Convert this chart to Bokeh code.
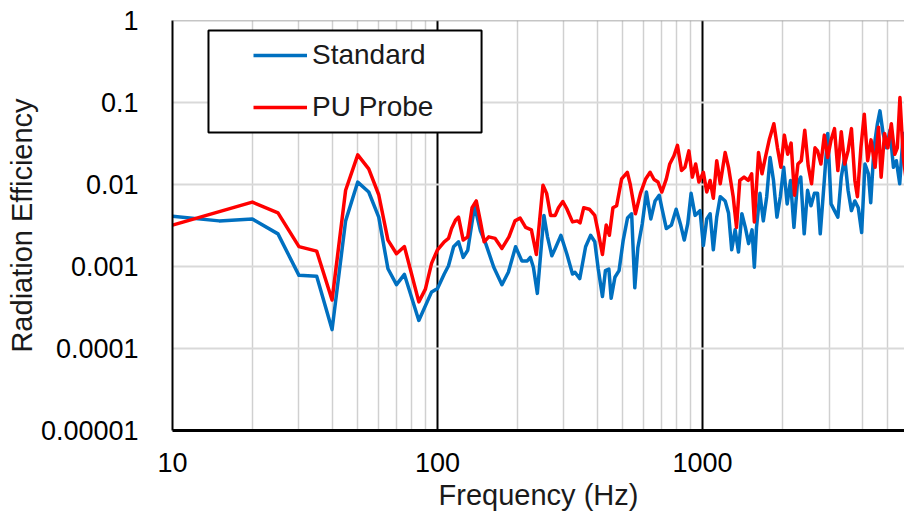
from bokeh.plotting import figure
from bokeh.models import (FixedTicker, CustomJSTickFormatter, Legend, LegendItem,
                          BoxAnnotation, Span)
from bokeh.embed import file_html
from bokeh.resources import INLINE

# ---------------- data ----------------
std_freq = [10, 15, 20, 25, 30, 35, 40, 45, 50, 55, 60, 65, 70, 75, 85, 95, 100,
            106, 110, 115, 120, 125, 130, 138, 145, 152, 163, 175, 185, 197, 208,
            218, 224, 230, 238, 252, 260, 270, 278, 292, 308, 323, 330, 344, 362,
            378, 392, 404, 419, 430, 443, 452, 467, 484, 502, 521, 540, 555, 570,
            592, 614, 638, 662, 686, 702, 730, 763, 795, 827, 853, 879, 905, 937,
            978, 1007, 1037, 1068, 1098, 1131, 1166, 1217, 1253, 1288, 1327, 1366,
            1407, 1450, 1492, 1537, 1568, 1598, 1646, 1695, 1746, 1798, 1852, 1908,
            1965, 2024, 2085, 2147, 2212, 2279, 2347, 2418, 2490, 2565, 2642, 2716,
            2780, 2880, 2966, 3054, 3146, 3240, 3337, 3437, 3540, 3645, 3755, 3868,
            3984, 4100, 4225, 4310, 4434, 4568, 4670, 4800, 4946, 5095, 5250, 5385,
            5545, 5715, 5890]
std_val = [0.0041, 0.0036, 0.0038, 0.0025, 0.00078, 0.00076, 0.00017, 0.0036,
           0.0107, 0.0081, 0.0040, 0.00094, 0.00060, 0.00080, 0.00022, 0.00049,
           0.00054, 0.00081, 0.00102, 0.00174, 0.0020, 0.00129, 0.00158, 0.0055,
           0.00275, 0.0019, 0.00098, 0.0006, 0.00085, 0.00174, 0.00117, 0.00117,
           0.00129, 0.00098, 0.00047, 0.0042, 0.0023, 0.00135, 0.00166, 0.0024,
           0.0014, 0.00081, 0.00085, 0.00071, 0.00174, 0.0024, 0.0020, 0.00093,
           0.00043, 0.00089, 0.00093, 0.00041, 0.00074, 0.00089, 0.0021, 0.0039,
           0.0044, 0.00055, 0.0017, 0.0033, 0.0081, 0.0038, 0.0063, 0.0074, 0.0052,
           0.0029, 0.0032, 0.0050, 0.0032, 0.0021, 0.0033, 0.0078, 0.0042, 0.0048,
           0.0018, 0.0038, 0.0044, 0.0016, 0.0040, 0.0071, 0.0063, 0.0045, 0.0016,
           0.0028, 0.0015, 0.0044, 0.0030, 0.0019, 0.0028, 0.00098, 0.0030, 0.0078,
           0.0036, 0.0071, 0.0214, 0.0112, 0.0040, 0.0071, 0.0162, 0.0058, 0.0112,
           0.0030, 0.0102, 0.0123, 0.0025, 0.0085, 0.0055, 0.0078, 0.0078, 0.0025,
           0.0112, 0.042, 0.0058, 0.0048, 0.0040, 0.0123, 0.0214, 0.0085, 0.0048,
           0.0063, 0.0052, 0.0026, 0.0178, 0.0135, 0.0060, 0.028, 0.055, 0.079,
           0.042, 0.028, 0.046, 0.0162, 0.0195, 0.0102, 0.042, 0.026]

pu_freq = [10, 20, 25, 30, 35, 40, 45, 50, 55, 60, 65, 70, 75, 85, 90, 95, 100,
           106, 110, 113, 117, 120, 125, 130, 135, 140, 145, 150, 156, 165, 175,
           186, 196, 205, 215, 226, 236, 250, 258, 267, 278, 286, 297, 308, 323,
           337, 345, 356, 374, 392, 404, 419, 433, 445, 459, 474, 495, 520, 533,
           558, 583, 610, 634, 656, 679, 702, 730, 752, 780, 804, 833, 858, 888,
           915, 942, 969, 1007, 1037, 1068, 1098, 1131, 1166, 1217, 1253, 1305,
           1343, 1382, 1434, 1487, 1532, 1568, 1626, 1676, 1726, 1788, 1858, 1917,
           1975, 2035, 2095, 2158, 2223, 2290, 2358, 2430, 2503, 2578, 2656, 2716,
           2796, 2880, 2966, 3054, 3146, 3240, 3337, 3437, 3540, 3645, 3755, 3840,
           3957, 4075, 4197, 4323, 4478, 4612, 4718, 4860, 5005, 5155, 5310, 5430,
           5555, 5720, 5890]
pu_val = [0.0032, 0.0061, 0.0045, 0.00175, 0.00154, 0.00039, 0.0085, 0.023,
          0.0155, 0.0075, 0.0021, 0.00143, 0.00175, 0.00037, 0.00053, 0.0011,
          0.0016, 0.0020, 0.0022, 0.0029, 0.0037, 0.0040, 0.0021, 0.0023, 0.0052,
          0.0063, 0.0036, 0.0020, 0.0023, 0.0022, 0.00166, 0.0023, 0.0036, 0.0039,
          0.0030, 0.0028, 0.0014, 0.0098, 0.0078, 0.0042, 0.0042, 0.0052, 0.0062,
          0.0050, 0.0035, 0.0036, 0.0034, 0.0052, 0.0050, 0.0042, 0.0026, 0.0014,
          0.0032, 0.0024, 0.0052, 0.0055, 0.0117, 0.0141, 0.0102, 0.0044, 0.0078,
          0.0117, 0.0141, 0.0115, 0.0107, 0.0081, 0.0117, 0.0178, 0.0224, 0.030,
          0.0148, 0.0162, 0.0257, 0.0123, 0.0178, 0.0107, 0.0141, 0.0081, 0.0112,
          0.0068, 0.0195, 0.0102, 0.0245, 0.0162, 0.0071, 0.0030, 0.0112, 0.0123,
          0.0112, 0.0135, 0.0035, 0.0245, 0.0135, 0.0214, 0.036, 0.055, 0.028,
          0.0162, 0.040, 0.0234, 0.032, 0.0074, 0.0178, 0.0195, 0.046, 0.017,
          0.0102, 0.028, 0.0257, 0.0178, 0.040, 0.0214, 0.035, 0.048, 0.0148,
          0.044, 0.0178, 0.0257, 0.048, 0.0112, 0.0071, 0.028, 0.072, 0.0195,
          0.035, 0.0162, 0.050, 0.0123, 0.042, 0.028, 0.055, 0.0234, 0.028, 0.115,
          0.0214, 0.0102]

x_major = [10, 100, 1000]
x_minor = [20, 30, 40, 50, 60, 70, 80, 90, 200, 300, 400, 500, 600, 700, 800,
           900, 2000, 3000, 4000, 5000]
y_major = [0.00001, 0.0001, 0.001, 0.01, 0.1, 1]

series_names = ["Standard", "PU Probe"]

FONT = "Liberation Sans"

p = figure(width=904, height=523, x_axis_type="log", y_axis_type="log",
           x_range=(10, 5780), y_range=(1e-5, 1),
           output_backend="svg", toolbar_location=None,
           min_border_left=172, min_border_right=0, min_border_top=20,
           min_border_bottom=93)
p.outline_line_color = None
p.background_fill_color = "white"
p.border_fill_color = "white"

xt = FixedTicker(ticks=x_major, minor_ticks=x_minor)
yt = FixedTicker(ticks=y_major, minor_ticks=[])
p.xaxis.ticker = xt
p.xgrid.ticker = xt
p.yaxis.ticker = yt
p.ygrid.ticker = yt

p.xaxis.formatter = CustomJSTickFormatter(code="return tick.toFixed(0);")
p.yaxis.formatter = CustomJSTickFormatter(
    code="const d = Math.round(-Math.log10(tick)); return d > 0 ? tick.toFixed(d) : tick.toFixed(0);")

# grids
p.xgrid.grid_line_color = "black"
p.xgrid.grid_line_width = 2
p.xgrid.minor_grid_line_color = "#d0d0d0"
p.xgrid.minor_grid_line_width = 1.5
p.ygrid.grid_line_color = "#d9d9d9"
p.ygrid.grid_line_width = 2

# axes
for ax in (p.xaxis, p.yaxis):
    ax.major_tick_line_color = None
    ax.minor_tick_line_color = None
    ax.axis_line_color = "black"
    ax.major_label_text_font = FONT
    ax.major_label_text_font_size = "27px"
    ax.major_label_text_color = "black"
    ax.axis_label_text_font = FONT
    ax.axis_label_text_font_size = "29px"
    ax.axis_label_text_font_style = "normal"
    ax.axis_label_text_color = "#1a1a1a"
p.xaxis.axis_line_width = 3
p.yaxis.axis_line_width = 2
p.xaxis.major_label_standoff = 16
p.yaxis.major_label_standoff = 28
p.xaxis.axis_label = "Frequency (Hz)"
p.yaxis.axis_label = "Radiation Efficiency"
p.xaxis.axis_label_standoff = 4
p.yaxis.axis_label_standoff = 0

p.add_layout(Span(location=1, dimension="width", line_color="#8c8c8c", line_width=1.5))

r1 = p.line(std_freq, std_val, line_color="#0070C0", line_width=3.5,
            line_join="round")
r2 = p.line(pu_freq, pu_val, line_color="#FF0000", line_width=3.5,
            line_join="round")

# legend frame
box = BoxAnnotation(left=13.67, right=146.6, bottom=0.043, top=0.755,
                    fill_color="white", fill_alpha=1.0,
                    line_color="black", line_width=2, line_alpha=1.0)
p.add_layout(box)

legend = Legend(items=[LegendItem(label=series_names[0], renderers=[r1]),
                       LegendItem(label=series_names[1], renderers=[r2])],
                location=(81, 307), padding=0, margin=0, spacing=20,
                glyph_width=54, glyph_height=32, label_height=32,
                label_standoff=5, label_text_font=FONT,
                label_text_font_size="28px", label_text_color="#1a1a1a",
                border_line_color=None, background_fill_alpha=0)
p.add_layout(legend)

open("out.html", "w").write(file_html(p, INLINE))
